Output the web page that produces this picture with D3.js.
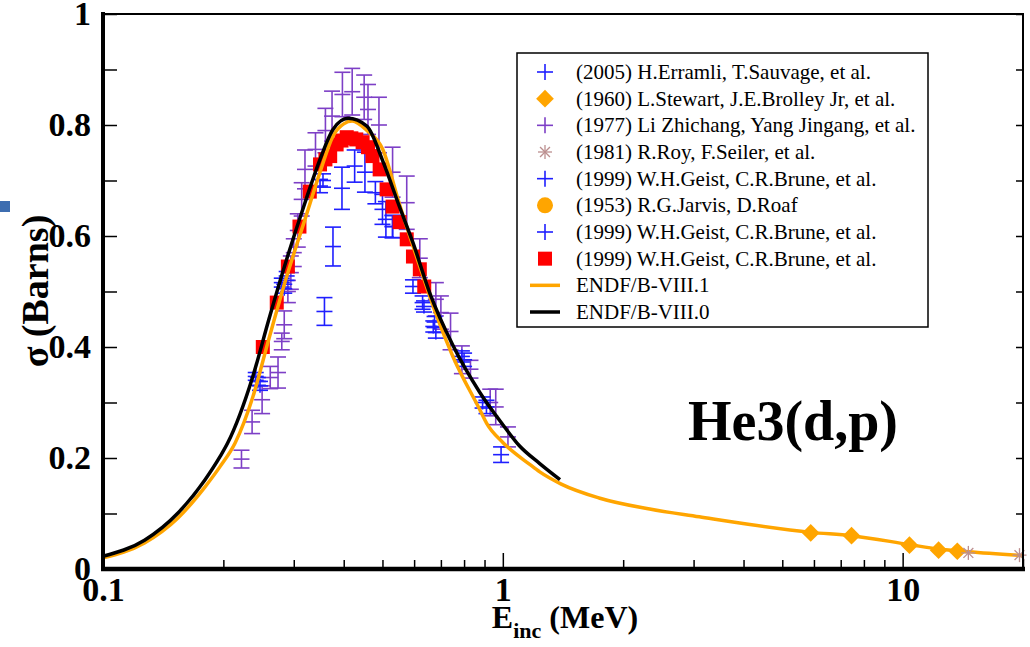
<!DOCTYPE html>
<html>
<head>
<meta charset="utf-8">
<script src="https://cdn.jsdelivr.net/npm/d3@7"></script>
<style>
  body { margin: 0; background: #fff; }
  svg { display: block; }
</style>
</head>
<body>
<svg id="chart" width="1030" height="647"></svg>
<script>
// evaluated curves
var endf81E = [0.1, 0.127, 0.154, 0.18, 0.196, 0.214, 0.237, 0.26, 0.288, 0.32, 0.349, 0.376, 0.40, 0.42, 0.457, 0.501, 0.55, 0.62, 0.68, 0.75, 0.876, 0.912, 1.0, 1.17, 1.237, 1.4, 1.74, 2.33, 3.1, 4.15, 5.89, 7.45, 10.4, 12.3, 14.6, 20];
var endf81S = [0.020, 0.047, 0.092, 0.148, 0.184, 0.227, 0.31, 0.415, 0.527, 0.63, 0.715, 0.78, 0.802, 0.807, 0.79, 0.756, 0.66, 0.545, 0.46, 0.383, 0.287, 0.262, 0.228, 0.188, 0.175, 0.153, 0.128, 0.108, 0.094, 0.08, 0.066, 0.060, 0.044, 0.036, 0.031, 0.024];
var endf80E = [0.1, 0.127, 0.154, 0.18, 0.196, 0.205, 0.237, 0.26, 0.288, 0.32, 0.349, 0.376, 0.41, 0.457, 0.501, 0.55, 0.596, 0.656, 0.75, 0.876, 1.0, 1.1, 1.237, 1.39];
var endf80S = [0.023, 0.052, 0.101, 0.161, 0.202, 0.227, 0.347, 0.45, 0.558, 0.66, 0.738, 0.792, 0.812, 0.798, 0.735, 0.655, 0.588, 0.498, 0.403, 0.318, 0.26, 0.222, 0.19, 0.161];

// experiments: [E, sigma, err]
var erramli2005 = [[0.358, 0.464, 0.025], [0.376, 0.581, 0.035], [0.396, 0.686, 0.038], [0.426, 0.726, 0.029], [0.452, 0.715, 0.036], [0.500, 0.648, 0.027], [0.510, 0.630, 0.032], [0.530, 0.617, 0.02]];
var stewart1960 = [[5.89, 0.065], [7.45, 0.060], [10.4, 0.043], [12.3, 0.034], [13.7, 0.032]];
var li1977 = [[0.222, 0.198, 0.016], [0.236, 0.265, 0.021], [0.250, 0.305, 0.025], [0.262, 0.345, 0.02], [0.274, 0.354, 0.028], [0.280, 0.410, 0.015], [0.284, 0.440, 0.025], [0.290, 0.500, 0.02], [0.295, 0.534, 0.03], [0.300, 0.570, 0.025], [0.307, 0.610, 0.03], [0.314, 0.666, 0.03], [0.320, 0.720, 0.035], [0.340, 0.756, 0.03], [0.360, 0.790, 0.04], [0.374, 0.816, 0.045], [0.397, 0.855, 0.04], [0.420, 0.860, 0.042], [0.450, 0.850, 0.04], [0.460, 0.828, 0.045], [0.490, 0.800, 0.05], [0.530, 0.715, 0.045], [0.575, 0.660, 0.048], [0.620, 0.560, 0.035], [0.680, 0.486, 0.03], [0.700, 0.462, 0.03], [0.740, 0.428, 0.033], [0.790, 0.377, 0.025], [0.830, 0.360, 0.016], [0.930, 0.300, 0.024], [0.960, 0.292, 0.032], [1.030, 0.238, 0.018]];
var roy1981 = [[14.6, 0.029], [19.6, 0.025]];
var geist1999a = [[0.241, 0.347, 0.007], [0.244, 0.338, 0.007], [0.247, 0.330, 0.008], [0.280, 0.516, 0.008], [0.284, 0.505, 0.008], [0.288, 0.528, 0.008], [0.349, 0.690, 0.012], [0.355, 0.700, 0.012], [0.480, 0.678, 0.02], [0.530, 0.617, 0.02]];
var jarvis1953 = [];
var geist1999b = [[0.596, 0.509, 0.012], [0.630, 0.480, 0.012], [0.635, 0.473, 0.01], [0.670, 0.437, 0.01], [0.675, 0.445, 0.01], [0.680, 0.426, 0.01], [0.790, 0.383, 0.01], [0.800, 0.377, 0.012], [0.890, 0.300, 0.01], [0.910, 0.292, 0.012], [0.990, 0.206, 0.014]];
var geist1999c = [[0.251, 0.40], [0.272, 0.48], [0.29, 0.545], [0.31, 0.617], [0.329, 0.68], [0.349, 0.729], [0.36, 0.738], [0.37, 0.744], [0.384, 0.765], [0.395, 0.772], [0.407, 0.778], [0.418, 0.776], [0.43, 0.774], [0.446, 0.769], [0.46, 0.76], [0.472, 0.744], [0.492, 0.72], [0.512, 0.684], [0.53, 0.653], [0.552, 0.625], [0.575, 0.594], [0.596, 0.563], [0.62, 0.54], [0.636, 0.509]];

var xMajor = [0.1, 1, 10];
var xMinor = [0.2, 0.3, 0.4, 0.5, 0.6, 0.7, 0.8, 0.9, 2, 3, 4, 5, 6, 7, 8, 9, 20];
var yMajor = [0, 0.2, 0.4, 0.6, 0.8, 1];
var yMinor = [0.1, 0.3, 0.5, 0.7, 0.9];

var legendNames = ["(2005) H.Erramli, T.Sauvage, et al.", "(1960) L.Stewart, J.E.Brolley Jr, et al.", "(1977) Li Zhichang, Yang Jingang, et al.", "(1981) R.Roy, F.Seiler, et al.", "(1999) W.H.Geist, C.R.Brune, et al.", "(1953) R.G.Jarvis, D.Roaf", "(1999) W.H.Geist, C.R.Brune, et al.", "(1999) W.H.Geist, C.R.Brune, et al.", "ENDF/B-VIII.1", "ENDF/B-VIII.0"];

var BLUE = "#1f1fff", PURPLE = "#7d3fc6", ORANGE = "#ffa500", ROSY = "#bc8f8f", RED = "#ff0000";
var SERIF = "'Liberation Serif', 'DejaVu Serif', serif";

var svg = d3.select("#chart").attr("font-family", SERIF);
var x = d3.scaleLog().domain([0.1, 20]).range([103, 1023]);
var y = d3.scaleLinear().domain([0, 1]).range([569, 14]);

// stray slide mark on the left
svg.append("rect").attr("x", 0).attr("y", 201).attr("width", 10).attr("height", 11).attr("fill", "#3d6db0");

function drawErr(data, color) {
  var g = svg.append("g").attr("stroke", color).attr("stroke-width", 1.6).attr("fill", "none");
  data.forEach(function (d) {
    var cx = x(d[0]), t = y(d[1] + d[2]), b = y(d[1] - d[2]), c = y(d[1]);
    g.append("line").attr("x1", cx).attr("x2", cx).attr("y1", Math.min(t, c - 7)).attr("y2", Math.max(b, c + 7));
    g.append("line").attr("x1", cx - 8).attr("x2", cx + 8).attr("y1", t).attr("y2", t);
    g.append("line").attr("x1", cx - 8).attr("x2", cx + 8).attr("y1", b).attr("y2", b);
    g.append("line").attr("x1", cx - 8).attr("x2", cx + 8).attr("y1", c).attr("y2", c);
  });
}

drawErr(li1977, PURPLE);
drawErr(erramli2005, BLUE);
drawErr(geist1999a, BLUE);
drawErr(geist1999b, BLUE);

svg.append("g").selectAll("rect").data(geist1999c).enter().append("rect")
  .attr("x", function (d) { return x(d[0]) - 7; })
  .attr("y", function (d) { return y(d[1]) - 7; })
  .attr("width", 14).attr("height", 14).attr("fill", RED);

svg.append("g").selectAll("circle").data(jarvis1953).enter().append("circle")
  .attr("cx", function (d) { return x(d[0]); })
  .attr("cy", function (d) { return y(d[1]); })
  .attr("r", 8).attr("fill", ORANGE);

// curves
var line = d3.line().x(function (d) { return x(d[0]); }).y(function (d) { return y(d[1]); }).curve(d3.curveMonotoneX);
svg.append("path").datum(d3.zip(endf81E, endf81S)).attr("d", line)
  .attr("fill", "none").attr("stroke", ORANGE).attr("stroke-width", 3.5);
svg.append("path").datum(d3.zip(endf80E, endf80S)).attr("d", line)
  .attr("fill", "none").attr("stroke", "#000").attr("stroke-width", 3.5);

var diamond = d3.symbol().type(d3.symbolDiamond2).size(200);
svg.append("g").selectAll("path").data(stewart1960).enter().append("path")
  .attr("d", diamond)
  .attr("transform", function (d) { return "translate(" + x(d[0]) + "," + y(d[1]) + ")"; })
  .attr("fill", ORANGE);

function star(g, cx, cy, r) {
  for (var i = 0; i < 4; i++) {
    var a = i * Math.PI / 4;
    g.append("line").attr("x1", cx - r * Math.cos(a)).attr("y1", cy - r * Math.sin(a))
      .attr("x2", cx + r * Math.cos(a)).attr("y2", cy + r * Math.sin(a));
  }
}
var roy = svg.append("g").attr("stroke", ROSY).attr("stroke-width", 1.3);
roy1981.forEach(function (d) { star(roy, x(d[0]), y(d[1]), 7); });

// axes
var bold = function (sel, size) {
  sel.selectAll("text").attr("font-family", SERIF).attr("font-weight", "bold")
    .attr("font-size", size).attr("fill", "#000");
  sel.select(".domain").remove();
};

svg.append("g").attr("transform", "translate(0,569)")
  .call(d3.axisBottom(x).tickValues(xMajor).tickSize(-16).tickPadding(8).tickFormat(d3.format("")))
  .call(bold, 34).selectAll("line").attr("stroke-width", 1.5);
svg.append("g").attr("transform", "translate(0,569)")
  .call(d3.axisBottom(x).tickValues(xMinor).tickSize(-9).tickFormat(""))
  .call(bold, 34).selectAll("line").attr("stroke-width", 1.5);
svg.append("g").attr("transform", "translate(103,0)")
  .call(d3.axisLeft(y).tickValues(yMajor).tickSize(-14).tickPadding(12).tickFormat(function (d) { return d === 0 || d === 1 ? d : d3.format(".1f")(d); }))
  .call(bold, 34).selectAll("line").attr("stroke-width", 1.5);
svg.append("g").attr("transform", "translate(103,0)")
  .call(d3.axisLeft(y).tickValues(yMinor).tickSize(-14).tickFormat(""))
  .call(bold, 34).selectAll("line").attr("stroke-width", 1.5);
svg.append("g").attr("transform", "translate(1023,0)")
  .call(d3.axisRight(y).tickValues(yMajor.concat(yMinor)).tickSize(-7).tickFormat(""))
  .call(bold, 34).selectAll("line").attr("stroke-width", 1.5);

svg.append("rect").attr("x", 103).attr("y", 14).attr("width", 920).attr("height", 555)
  .attr("fill", "none").attr("stroke", "#000").attr("stroke-width", 2);
svg.append("line").attr("x1", 101).attr("x2", 1025).attr("y1", 569).attr("y2", 569).attr("stroke", "#000").attr("stroke-width", 4.5);
svg.append("line").attr("x1", 103).attr("x2", 103).attr("y1", 12).attr("y2", 571).attr("stroke", "#000").attr("stroke-width", 4);

// titles
var xt = svg.append("text").attr("x", 565).attr("y", 628).attr("text-anchor", "middle")
  .attr("font-weight", "bold").attr("font-size", 32);
xt.append("tspan").text("E");
xt.append("tspan").attr("font-size", 22).attr("dy", 10).text("inc");
xt.append("tspan").attr("dy", -10).text(" (MeV)");

svg.append("text").attr("transform", "translate(48,291) rotate(-90)").attr("text-anchor", "middle")
  .attr("font-weight", "bold").attr("font-size", 38).text("σ (Barns)");

svg.append("text").attr("x", 688).attr("y", 440).attr("font-weight", "bold").attr("font-size", 56).text("He3(d,p)");

// legend
var lg = svg.append("g");
lg.append("rect").attr("x", 517).attr("y", 53).attr("width", 411).attr("height", 274)
  .attr("fill", "#fff").attr("stroke", "#000").attr("stroke-width", 1.5);
var rowY = d3.scaleLinear().domain([0, 9]).range([72, 312]);
legendNames.forEach(function (name, i) {
  var cy = rowY(i), cx = 545;
  var g = lg.append("g");
  if (i === 0 || i === 2 || i === 4 || i === 6) {
    var c = i === 2 ? PURPLE : BLUE;
    g.append("line").attr("x1", cx - 8).attr("x2", cx + 8).attr("y1", cy).attr("y2", cy).attr("stroke", c).attr("stroke-width", 1.6);
    g.append("line").attr("x1", cx).attr("x2", cx).attr("y1", cy - 8).attr("y2", cy + 8).attr("stroke", c).attr("stroke-width", 1.6);
  } else if (i === 1) {
    g.append("path").attr("d", diamond).attr("transform", "translate(" + cx + "," + cy + ")").attr("fill", ORANGE);
  } else if (i === 3) {
    var s = g.append("g").attr("stroke", ROSY).attr("stroke-width", 1.3);
    star(s, cx, cy, 7);
  } else if (i === 5) {
    g.append("circle").attr("cx", cx).attr("cy", cy).attr("r", 8).attr("fill", ORANGE);
  } else if (i === 7) {
    g.append("rect").attr("x", cx - 7).attr("y", cy - 7).attr("width", 14).attr("height", 14).attr("fill", RED);
  } else {
    g.append("line").attr("x1", 530).attr("x2", 560).attr("y1", cy).attr("y2", cy)
      .attr("stroke", i === 8 ? ORANGE : "#000").attr("stroke-width", 3.5);
  }
  lg.append("text").attr("x", 576).attr("y", cy + 7).attr("font-size", 21).attr("font-family", SERIF).text(name);
});
</script>
</body>
</html>
